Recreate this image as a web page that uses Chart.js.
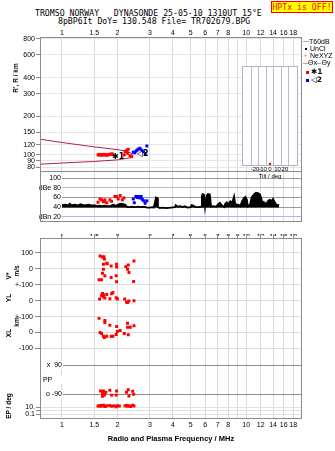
<!DOCTYPE html>
<html>
<head>
<meta charset="utf-8">
<script src="https://cdn.jsdelivr.net/npm/chart.js@4.4.1/dist/chart.umd.min.js"></script>
<style>
  body { margin: 0; background: #fff; }
  #page { position: relative; width: 335px; height: 451px; overflow: hidden; font-family: "Liberation Sans", Arial, sans-serif; color: #000; }
  #page canvas { position: absolute; }
  .mono { position: absolute; white-space: pre; font-family: "DejaVu Sans Mono", monospace; font-size: 8.2px; line-height: 10px; }
  #hptx { left: 271px; top: 1px; width: 60px; height: 10px; border: 1px solid #f00; background: #ff0; color: #f00; text-align: center; }
  .lg { position: absolute; white-space: pre; font-size: 7px; line-height: 8px; }
  .sym { font-family: "DejaVu Sans", sans-serif; font-size: 7.5px; font-weight: bold; }
  .vt { position: absolute; white-space: pre; font: bold 6.5px "Liberation Sans Narrow", "Liberation Sans", sans-serif; transform: translate(-50%, -50%) rotate(-90deg); }
</style>
</head>
<body>
<div id="page">
  <div class="mono" style="left:35px; top:8px">TROMSO NORWAY   DYNASONDE 25-05-10 1310UT 15°E</div>
  <div class="mono" style="left:58px; top:16px">8pBP6It DoY= 130.548 File= TR702679.BPG</div>
  <div class="mono" id="hptx">HPTx is OFF!</div>

  <canvas id="topChart" width="335" height="236" style="left:0; top:0"></canvas>
  <canvas id="lowChart" width="335" height="220" style="left:0; top:231px"></canvas>
  <canvas id="tiltChart" width="70" height="122" style="left:236px; top:58px"></canvas>

  <!-- legend -->
  <div style="position:absolute; left:303px; top:41px; width:6px; height:1px; background:#b0b0b0"></div>
  <div class="lg" style="left:309px; top:37.5px">T60dB</div>
  <div style="position:absolute; left:305px; top:48px; width:1.5px; height:1.5px; background:#000"></div>
  <div class="lg" style="left:310px; top:44.5px">UnCl</div>
  <div class="lg" style="left:303.5px; top:51.5px; color:#e07a8c">+</div>
  <div class="lg" style="left:310px; top:51.5px">NeXYZ</div>
  <div style="position:absolute; left:303px; top:63px; width:5px; height:1px; background:#f08a9a"></div>
  <div class="lg" style="left:308px; top:59px">Θx</div>
  <div style="position:absolute; left:315.5px; top:63px; width:5.5px; height:1px; background:#8aa8f0"></div>
  <div class="lg" style="left:321.5px; top:59px">Θy</div>
  <div style="position:absolute; left:305.5px; top:70.5px; width:3px; height:3px; background:#f00"></div>
  <div class="lg sym" style="left:311px; top:67.5px">✱1</div>
  <div style="position:absolute; left:305.5px; top:79px; width:3px; height:3px; background:#00f"></div>
  <div class="lg sym" style="left:311px; top:76px">◁2</div>

  <!-- y axis titles -->
  <div class="vt" style="left:15px; top:78px">R', R / km</div>
  <div class="vt" style="left:8px; top:276px">V*</div>
  <div class="vt" style="left:16px; top:271px">m/s</div>
  <div class="vt" style="left:8px; top:298px">YL</div>
  <div class="vt" style="left:16px; top:322px">km</div>
  <div class="vt" style="left:8px; top:333px">XL</div>
  <div class="vt" style="left:8px; top:406px">EP / deg</div>
</div>

<script>
// frequency axis, MHz (log)
const freqMin = 0.76;
const freqMax = 20.1;
const freqTicks = [1, 1.5, 2, 3, 4, 5, 6, 7, 8, 9, 10, 12, 14, 16, 18];
const freqLabelsOuter = ["1", "1.5", "2", "3", "4", "5", "6", "7", "8", "", "10", "12", "14", "16", "18"];
const freqLabelsMid = ["1", "1.5", "2", "3", "4", "5", "6", "7", "8", "9", "10", "12", "14", "16", "18"];

// virtual height panel (km, log)
const heightTicks = [800, 600, 400, 300, 200, 150, 120, 100, 90, 80];
const profileFreq = [0.76, 1.0, 1.5, 2.0, 2.25, 2.38, 2.43, 2.35, 2.0, 1.5, 1.0, 0.76];
const profileHeight = [132.5, 125, 115.5, 110, 107, 103, 98, 95, 91.5, 89, 86.5, 84.7];
const oFreq = [1.57, 1.59, 1.61, 1.63, 1.65, 1.67, 1.69, 1.71, 1.73, 1.75, 1.78, 1.81, 1.84, 1.87, 1.89, 2.18, 2.2, 2.25, 2.27, 2.29, 2.34, 2.39];
const oHeight = [100, 101, 100, 99.5, 100.5, 100, 101, 100, 100.5, 99.5, 100, 101, 101.5, 102, 101, 100, 106, 109, 103, 110.7, 98.8, 97];
const xFreq = [2.44, 2.48, 2.52, 2.56, 2.6, 2.65, 2.71, 2.77, 2.83, 2.89];
const xHeight = [105, 104, 107, 109, 111, 112.7, 109, 106, 103, 117.5];
const echoTagText = ["✱1", "◁2"];
const echoTagFreq = [2.02, 2.74];
const echoTagHeight = [97.3, 101];

// amplitude panel (dB)
const dbTicks = [100, 80, 60, 40, 20];
const dbTickLabels = ["100", "dBe 80", "60", "40", "dBn 20"];
const ampFreq = [1.0, 1.05, 1.08, 1.1, 1.13, 1.18, 1.22, 1.26, 1.3, 1.35,
  1.4, 1.45, 1.5, 1.55, 1.6, 1.65, 1.7, 1.75, 1.8, 1.85,
  1.9, 1.95, 2.0, 2.05, 2.1, 2.15, 2.2, 2.25, 2.3, 2.4,
  2.5, 2.6, 2.7, 2.8, 2.9, 3.0, 3.1, 3.15, 3.24, 3.29,
  3.32, 3.4, 3.5, 3.7, 3.9, 4.1, 4.15, 4.25, 4.4, 4.5,
  4.65, 4.8, 5.0, 5.06, 5.17, 5.3, 5.5, 5.7, 5.75, 5.8,
  5.9, 5.98, 6.1, 6.2, 6.35, 6.45, 6.6, 6.9, 7.05, 7.2,
  7.37, 7.6, 7.7, 7.85, 8.0, 8.2, 8.4, 8.6, 8.7, 8.9,
  9.1, 9.3, 9.5, 9.7, 9.9, 10.1, 10.2, 10.5, 10.7, 11.0,
  11.3, 11.6, 11.9, 12.2, 12.5, 12.9, 13.1, 13.4, 13.7, 14.0,
  14.3, 14.6, 15.1];
const ampDb = [44, 45, 43, 47, 44, 45, 43, 46, 44, 44,
  45, 43, 44, 42, 43, 42, 43, 42, 42, 43,
  45, 43, 44, 46, 47, 46, 45, 41, 40, 41,
  40, 41, 40, 41, 39, 39, 40, 39, 60, 59,
  40, 38, 39, 38, 39, 40, 44, 41, 42, 40,
  42, 39, 40, 44, 43, 40, 40, 41, 62, 67,
  66, 40, 64, 67, 66, 41, 42, 41, 46, 49,
  44, 40, 47, 50, 46, 52, 49, 62, 48, 44,
  45, 42, 52, 58, 61, 55, 42, 45, 60, 66,
  70, 69, 66, 52, 50, 46, 52, 55, 53, 57,
  50, 45, 44];
const oAmpFreq = [1.57, 1.61, 1.64, 1.68, 1.70, 1.71, 1.75, 1.82, 1.86, 1.94, 1.98, 2.02, 2.07, 2.13, 2.17];
const oAmpDb = [50, 57, 55, 51, 52, 55, 49, 55, 52, 62, 62, 57, 64, 55, 59];
const xAmpFreq = [2.44, 2.47, 2.52, 2.56, 2.6, 2.64, 2.69, 2.73, 2.78, 2.83, 2.89];
const xAmpDb = [57, 49, 62, 60, 62, 59, 62, 56, 53, 48, 53];

// lower panels (O-mode echoes)
const vsFreq = [1.61, 1.66, 1.69, 1.68, 1.75, 1.68, 1.66, 1.71, 1.59, 1.64, 1.85, 1.85, 1.98, 1.98, 1.97, 1.98, 2.22, 2.29, 2.27, 2.31, 2.46, 2.45, 1.70, 1.76];
const vsVal = [79, 73, 75, 28, 34, -3, -28, -44, -69, -69, 17, -55, 28, 11, -44, -81, 13, 23, -3, -24, 48, -80, 60, 31];
const ylFreq = [1.60, 1.64, 1.66, 1.68, 1.71, 1.75, 1.82, 1.86, 1.89, 1.97, 2.0, 2.19, 2.27, 2.31, 2.46, 1.68, 2.24];
const ylVal = [11, 31, 46, 37, 17, 39, 12, 44, 52, 19, 11, 11, -11, -2, 0, 25, -8];
const xlFreq = [1.59, 1.71, 1.71, 1.82, 1.98, 2.27, 2.27, 2.35, 2.46, 1.61, 1.64, 1.68, 1.70, 1.75, 1.85, 1.89, 1.97, 2.0, 2.07, 2.18, 2.29];
const xlVal = [89, 75, 63, 46, 38, 58, 33, 33, 42, 0, -6, -23, -31, -23, -23, -23, -13, 6, 13, -6, -14];
const ppFreq = [1.62, 1.66, 1.68, 1.70, 1.73, 1.66, 1.70, 1.82, 1.86, 1.97, 1.98, 2.24, 2.29, 2.31, 2.45, 2.42];
const ppVal = [-70, -84, -70, -90, -78, -103, -96, -65, -96, -96, -70, -78, -63, -101, -90, -72];
const epFreq = [1.57, 1.60, 1.62, 1.64, 1.66, 1.68, 1.70, 1.72, 1.76, 1.82, 1.86, 1.92, 1.97, 2.0, 2.05, 2.2, 2.24, 2.27, 2.31, 2.36, 2.42, 2.46];
const epVal = [20, 25, 18, 30, 22, 35, 20, 15, 25, 28, 18, 22, 12, 25, 20, 22, 30, 18, 25, 15, 35, 22];
const vsTicks = [100, 0];
const vsLabels = ["100", "0"];
const ylTicks = [100, 0];
const ylLabels = ["+-100", "0"];
const xlTicks = [100, 0, -100];
const xlLabels = ["+-100", "0", "-100"];
const ppTicks = [90, 0, -90];
const ppLabels = ["x  90", "PP     ", "o -90"];
const epTicks = [10, 1, 0.1];
const epLabels = ["10.", "", "0.1"];

// tilt inset
const tiltTicks = [-20, -10, 0, 10, 20];
const tiltDeg = [0];
const tiltCount = [1];

Chart.defaults.font.family = '"Liberation Sans", Arial, sans-serif';
Chart.defaults.font.size = 7;
Chart.defaults.color = "#000";

const pts = (xs, ys) => xs.map((x, i) => ({ x: x, y: ys[i] }));
const setTicks = values => scale => { scale.ticks = values.map(v => ({ value: v })); };
const fixHeight = h => scale => { scale.height = h; };
const fixWidth = w => scale => { scale.width = w; };
const noUi = { legend: { display: false }, tooltip: { enabled: false } };

// box round the plot area, plus lines between stacked panels
function framePlugin(color, splitIds) {
    return {
        id: "frame",
        afterDatasetsDraw(chart) {
            const { ctx, chartArea: a } = chart;
            ctx.save();
            ctx.strokeStyle = color;
            ctx.lineWidth = 1;
            ctx.strokeRect(Math.round(a.left) + 0.5, Math.round(a.top) + 0.5, Math.round(a.right - a.left) - 1, Math.round(a.bottom - a.top) - 1);
            splitIds.forEach(id => {
                const y = Math.round(chart.scales[id].bottom) + 0.5;
                ctx.beginPath();
                ctx.moveTo(a.left, y);
                ctx.lineTo(a.right, y);
                ctx.stroke();
            });
            ctx.restore();
        }
    };
}

const echoTags = {
    id: "echoTags",
    afterDatasetsDraw(chart) {
        const { ctx } = chart;
        const x = chart.scales.x, h = chart.scales.h;
        ctx.save();
        ctx.font = 'bold 8px "DejaVu Sans"';
        ctx.fillStyle = "#000";
        ctx.textAlign = "center";
        ctx.textBaseline = "middle";
        echoTagText.forEach((t, i) => {
            ctx.fillText(t, x.getPixelForValue(echoTagFreq[i]), h.getPixelForValue(echoTagHeight[i]));
        });
        ctx.restore();
    }
};

const whiteArea = {
    id: "whiteArea",
    beforeDraw(chart) {
        const { ctx, chartArea: a } = chart;
        ctx.save();
        ctx.fillStyle = "#fff";
        ctx.fillRect(a.left, a.top, a.right - a.left, a.bottom - a.top);
        ctx.restore();
    }
};

const sq = color => ({ type: "scatter", pointStyle: "rect", pointRadius: 2.1, pointBorderWidth: 0, backgroundColor: color, borderColor: color });

// Ionogram + amplitude
new Chart(document.getElementById("topChart"), {
    type: "scatter",
    data: {
        datasets: [
            Object.assign(sq("#ff0000"), { data: pts(oFreq, oHeight), xAxisID: "x", yAxisID: "h" }),
            Object.assign(sq("#0000ff"), { data: pts(xFreq, xHeight), xAxisID: "x", yAxisID: "h" }),
            Object.assign(sq("#ff0000"), { data: pts(oAmpFreq, oAmpDb), xAxisID: "x", yAxisID: "db" }),
            Object.assign(sq("#0000ff"), { data: pts(xAmpFreq, xAmpDb), xAxisID: "x", yAxisID: "db" }),
            {
                type: "line", data: pts(profileFreq, profileHeight), xAxisID: "x", yAxisID: "h",
                borderColor: "#b3243e", borderWidth: 1, pointRadius: 0, tension: 0, fill: false
            },
            {
                type: "line", data: pts(ampFreq, ampDb), xAxisID: "x", yAxisID: "db",
                borderColor: "#000", backgroundColor: "#000", borderWidth: 1.8, pointRadius: 0, tension: 0,
                fill: { value: 39 }
            }
        ]
    },
    options: {
        responsive: false,
        animation: false,
        layout: { padding: { left: 0, right: 33, top: 0, bottom: 0 } },
        plugins: noUi,
        scales: {
            x: {
                type: "logarithmic", position: "top", min: freqMin, max: freqMax, bounds: "data",
                afterBuildTicks: setTicks(freqTicks), afterFit: fixHeight(37),
                ticks: { autoSkip: false, maxRotation: 0, padding: 0, callback: (v, i) => freqLabelsOuter[i] },
                grid: { color: "#dadada", drawTicks: false },
                border: { display: false }
            },
            x2: {
                type: "logarithmic", position: "bottom", min: freqMin, max: freqMax, bounds: "data",
                afterBuildTicks: setTicks(freqTicks), afterFit: fixHeight(14),
                ticks: { autoSkip: false, maxRotation: 0, padding: 2.8, callback: (v, i) => freqLabelsMid[i] },
                grid: { display: false },
                border: { display: false }
            },
            h: {
                type: "logarithmic", position: "left", stack: "left", stackWeight: 134, weight: 2,
                min: 75, max: 828, bounds: "data",
                afterBuildTicks: setTicks(heightTicks), afterFit: fixWidth(40),
                ticks: { autoSkip: false, padding: 1, callback: v => String(v) },
                grid: { color: "#e6e6e6", tickColor: "#888", tickLength: 4 },
                border: { display: false }
            },
            db: {
                type: "linear", position: "left", stack: "left", stackWeight: 51, weight: 1,
                min: 9, max: 115, bounds: "data",
                afterBuildTicks: setTicks(dbTicks), afterFit: fixWidth(40),
                ticks: {
                    autoSkip: false, mirror: true, crossAlign: "far", padding: -1.2,
                    showLabelBackdrop: true, backdropColor: "#fff",
                    backdropPadding: { left: 24, right: 1, top: 0, bottom: 0 },
                    callback: (v, i) => dbTickLabels[i]
                },
                grid: {
                    drawTicks: false,
                    color: ctx => ctx.tick && ctx.tick.value === 20 ? "#b4b4e6" : (ctx.tick && ctx.tick.value === 80 ? "#bdbdbd" : "#9a9a9a")
                },
                border: { display: false }
            }
        }
    },
    plugins: [framePlugin("#8c8c8c", ["h"]), echoTags]
});

// V*, YL, XL, PP, EP panels
const ySide = (extra) => Object.assign({
    position: "left", stack: "low", bounds: "data", afterFit: fixWidth(40), border: { display: false }
}, extra);

new Chart(document.getElementById("lowChart"), {
    type: "scatter",
    data: {
        datasets: [
            Object.assign(sq("#ff0000"), { data: pts(vsFreq, vsVal), xAxisID: "x", yAxisID: "vs" }),
            Object.assign(sq("#ff0000"), { data: pts(ylFreq, ylVal), xAxisID: "x", yAxisID: "yl" }),
            Object.assign(sq("#ff0000"), { data: pts(xlFreq, xlVal), xAxisID: "x", yAxisID: "xl" }),
            Object.assign(sq("#ff0000"), { data: pts(ppFreq, ppVal), xAxisID: "x", yAxisID: "pp" }),
            Object.assign(sq("#ff0000"), { data: pts(epFreq, epVal), xAxisID: "x", yAxisID: "ep" })
        ]
    },
    options: {
        responsive: false,
        animation: false,
        layout: { padding: { left: 0, right: 33, top: 0, bottom: 0 } },
        plugins: noUi,
        scales: {
            x: {
                type: "logarithmic", position: "bottom", min: freqMin, max: freqMax, bounds: "data",
                afterBuildTicks: setTicks(freqTicks), afterFit: fixHeight(32),
                ticks: { autoSkip: false, maxRotation: 0, padding: 1.8, callback: (v, i) => freqLabelsOuter[i] },
                grid: { color: "#dadada", drawTicks: false },
                border: { display: false },
                title: {
                    display: true, text: "Radio and Plasma Frequency / MHz",
                    font: { size: 7.5, weight: "bold" }, padding: { top: 0, bottom: 7.5 }
                }
            },
            xt: {
                type: "logarithmic", position: "top", min: freqMin, max: freqMax, bounds: "data",
                afterBuildTicks: setTicks(freqTicks), afterFit: fixHeight(6),
                ticks: { display: false },
                grid: { drawOnChartArea: false, drawTicks: true, tickLength: 4, color: "#8c8c8c" },
                border: { display: false }
            },
            vs: ySide({
                type: "linear", stackWeight: 47, weight: 5, min: -100, max: 190,
                afterBuildTicks: setTicks(vsTicks),
                ticks: { autoSkip: false, padding: 2, callback: (v, i) => vsLabels[i] },
                grid: { color: "#dedede", tickColor: "#888", tickLength: 5 }
            }),
            yl: ySide({
                type: "linear", stackWeight: 32, weight: 4, min: -100, max: 100,
                afterBuildTicks: setTicks(ylTicks),
                ticks: { autoSkip: false, padding: 2, callback: (v, i) => ylLabels[i] },
                grid: { color: "#dedede", tickColor: "#888", tickLength: 5 }
            }),
            xl: ySide({
                type: "linear", stackWeight: 49, weight: 3, min: -206, max: 100,
                afterBuildTicks: setTicks(xlTicks),
                ticks: { autoSkip: false, padding: 2, callback: (v, i) => xlLabels[i] },
                grid: { color: "#dedede", tickColor: "#888", tickLength: 5 }
            }),
            pp: ySide({
                type: "linear", stackWeight: 34, weight: 2, min: -121, max: 90,
                afterBuildTicks: setTicks(ppTicks),
                ticks: {
                    autoSkip: false, mirror: true, crossAlign: "far", padding: 2.9,
                    showLabelBackdrop: true, backdropColor: "#fff",
                    backdropPadding: { left: 22, right: 1, top: 0, bottom: 0 },
                    callback: (v, i) => ppLabels[i]
                },
                grid: { drawTicks: false, color: ctx => ctx.tick && ctx.tick.value === 0 ? "rgba(0,0,0,0)" : "#8c8c8c" }
            }),
            ep: ySide({
                type: "logarithmic", stackWeight: 20, weight: 1, min: 0.0037, max: 1940,
                afterBuildTicks: setTicks(epTicks),
                ticks: { autoSkip: false, padding: 1, callback: (v, i) => epLabels[i] },
                grid: { color: "#e0e0e0", tickColor: "#888", tickLength: 4 }
            })
        }
    },
    plugins: [framePlugin("#8c8c8c", [])]
});

// Tilt inset
new Chart(document.getElementById("tiltChart"), {
    type: "bar",
    data: {
        datasets: [{ data: pts(tiltDeg, tiltCount), backgroundColor: "#ff0000", barThickness: 1.5 }]
    },
    options: {
        responsive: false,
        animation: false,
        layout: { padding: { left: 6, right: 8, top: 8, bottom: 0 } },
        plugins: noUi,
        scales: {
            x: {
                type: "linear", min: -30, max: 30, bounds: "data",
                afterBuildTicks: setTicks(tiltTicks), afterFit: fixHeight(14),
                ticks: { font: { size: 6 }, padding: 0, maxRotation: 0, autoSkip: false, callback: v => String(v) },
                grid: { color: "#b9b9cf", drawTicks: false },
                border: { display: false },
                title: { display: true, text: "Tilt / deg", font: { size: 6 }, padding: { top: 0, bottom: 0 } }
            },
            y: { display: false, min: 0, max: 35 }
        }
    },
    plugins: [whiteArea, framePlugin("#b0b0c8", [])]
});
</script>
</body>
</html>
